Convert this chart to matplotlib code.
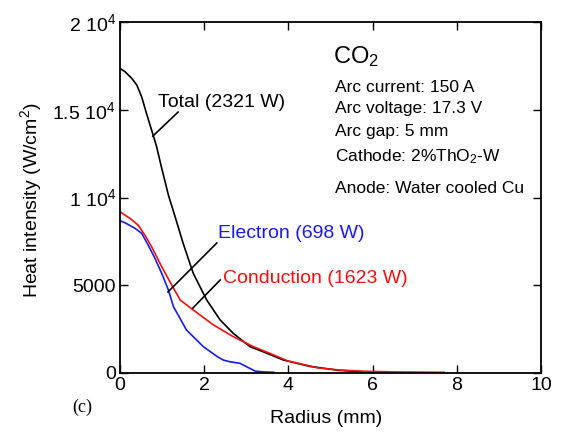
import matplotlib
matplotlib.use("AGG")
from matplotlib import pyplot as plt

plt.rcParams["font.family"] = ["Liberation Sans", "DejaVu Sans"]
plt.rcParams["mathtext.fontset"] = "custom"
plt.rcParams["mathtext.rm"] = "Liberation Sans"
plt.rcParams["mathtext.it"] = "Liberation Sans:italic"

# heat flux profiles at the anode, radius in mm, W/cm2
r_total = [0, 0.12, 0.28, 0.40, 0.515, 0.63, 0.75, 0.87, 0.99, 1.15, 1.31, 1.5,
           1.74, 2.06, 2.38, 2.69, 3.09, 3.4, 3.88, 4.5, 5.2, 6.0]
q_total = [17360, 17170, 16790, 16410, 15740, 14790, 13850, 12900, 11680, 10140,
           8900, 7390, 5680, 4160, 3020, 2260, 1500, 1210, 740, 380, 150, 40]

r_cond = [0, 0.08, 0.24, 0.43, 0.59, 0.75, 0.99, 1.23, 1.43, 1.74, 2.22, 2.69,
          3.17, 3.56, 3.97, 4.7, 5.2, 5.78, 6.5, 7.52, 7.7]
q_cond = [9200, 9060, 8810, 8430, 7860, 7200, 6060, 5010, 4160, 3590, 2740, 2070,
          1500, 1120, 700, 290, 170, 100, 60, 40, 40]

r_elec = [0, 0.12, 0.36, 0.515, 0.67, 0.83, 0.99, 1.15, 1.27, 1.58, 1.98, 2.3,
          2.45, 2.61, 2.85, 2.93, 3.21, 3.4, 3.65]
q_elec = [8680, 8560, 8240, 7960, 7290, 6540, 5680, 4730, 3780, 2450, 1500, 950,
          740, 640, 550, 450, 110, 60, 40]

y_ticks = [0, 5000, 10000, 15000, 20000]
y_ticklabels = ["0", "5000", r"1 $10^4$", r"1.5 $10^4$", r"2 $10^4$"]
x_ticks = [0, 2, 4, 6, 8, 10]

conditions = ["Arc current: 150 A", "Arc voltage: 17.3 V", "Arc gap: 5 mm",
              r"Cathode: 2%ThO$_2$-W", "Anode: Water cooled Cu"]
cond_y = [16010, 14810, 13500, 12080, 10260]

fig = plt.figure(figsize=(5.62, 4.33), dpi=100)
ax = fig.add_axes([0.2135, 0.1386, 0.7491, 0.8104])

ax.plot(r_total, q_total, color="black", lw=1.2)
ax.plot(r_cond, q_cond, color="#f01010", lw=1.2)
ax.plot(r_elec, q_elec, color="#1a1aef", lw=1.2)

# leader lines and labels
ax.plot([0.78, 1.38], [13500, 14870], color="black", lw=1.2)
ax.text(0.9, 15160, "Total (2321 W)", fontsize=14, va="baseline")
ax.plot([1.14, 2.30], [4620, 7410], color="black", lw=1.2)
ax.text(2.33, 7690, "Electron (698 W)", fontsize=14, va="baseline", color="#1a1aef")
ax.plot([1.73, 2.38], [3700, 5300], color="black", lw=1.2)
ax.text(2.45, 5130, "Conduction (1623 W)", fontsize=14, va="baseline", color="#f01010")

ax.text(5.06, 17660, r"CO$_2$", fontsize=17, va="baseline")
for s, y in zip(conditions, cond_y):
    ax.text(5.1, y, s, fontsize=12.5, va="baseline")

ax.set_xlim(0, 10)
ax.set_ylim(0, 20000)
ax.set_xticks(x_ticks)
ax.set_yticks(y_ticks)
ax.set_yticklabels(y_ticklabels)
ax.tick_params(direction="in", length=6, width=1, labelsize=14, pad=3,
               top=True, right=True)
for sp in ax.spines.values():
    sp.set_linewidth(1.3)

ax.set_xlabel("Radius (mm)", fontsize=14)
ax.set_ylabel("Heat intensity (W/cm$^2$)", fontsize=14)
ax.xaxis.set_label_coords(0.49, -0.105)
ax.yaxis.set_label_coords(-0.181, 0.493)

fig.text(0.128, 0.06, "(c)", fontsize=13, family="Liberation Serif", va="center")

plt.savefig("out.png", dpi=100)
